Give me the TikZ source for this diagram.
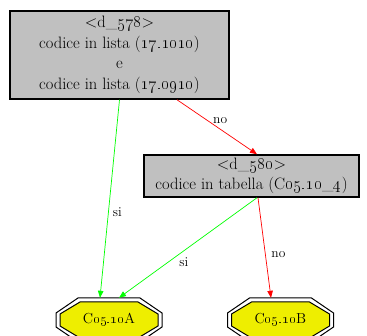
\documentclass[tikz,border=0pt]{standalone}
\usetikzlibrary{arrows.meta}
\definecolor{boxgray}{HTML}{C0C0C0}
\definecolor{leafyellow}{HTML}{EEEE00}
\definecolor{egreen}{HTML}{00FF00}
\definecolor{ered}{HTML}{FF0000}
\newcommand{\octa}[2]{%
  \draw[line width=1pt, fill=white] (#1-31,#2-22) -- (#1+31,#2-22) -- (#1+53,#2-7) -- (#1+53,#2+7) -- (#1+31,#2+22) -- (#1-31,#2+22) -- (#1-53,#2+7) -- (#1-53,#2-7) -- cycle;
  \draw[line width=1pt, fill=leafyellow] (#1-29,#2-18) -- (#1+29,#2-18) -- (#1+49,#2-6) -- (#1+49,#2+6) -- (#1+29,#2+18) -- (#1-29,#2+18) -- (#1-49,#2+6) -- (#1-49,#2-6) -- cycle;}
\tikzset{
  decbox/.style={draw=black, line width=1.5pt, fill=boxgray, align=center, inner sep=0pt,
    font=\fontsize{16.5}{20.5}\selectfont},
  leaf/.style={inner sep=0pt, minimum width=106pt, minimum height=44pt, font=\fontsize{14.5}{16}\selectfont},
  edge/.style={line width=0.7pt, -{Triangle[length=7pt,width=5.5pt]}},
  elabel/.style={font=\fontsize{13.5}{15}\selectfont, text=black, inner sep=1pt}
}
\begin{document}
\begin{tikzpicture}[x=1pt,y=-1pt]
\useasboundingbox (0,0) rectangle (367,336);
\node[decbox, minimum width=219pt, minimum height=88pt] (d578) at (119.5,55)
  {<d\_\oldstylenums{578}>\\codice in lista (\oldstylenums{17.1010})\\e\\codice in lista (\oldstylenums{17.0910})};
\node[decbox, minimum width=215pt, minimum height=42pt] (d580) at (251.5,176)
  {<d\_\oldstylenums{580}>\\codice in tabella (C\oldstylenums{05.10}\_\oldstylenums{4})};
\octa{109}{320}
\octa{280.5}{320}
\node[leaf] (A) at (109,320) {C\oldstylenums{05.10}A};
\node[leaf] (B) at (280.5,320) {C\oldstylenums{05.10}B};
\draw[edge, egreen] (d578.south) -- node[elabel, pos=0.57, xshift=9pt]{si} ([xshift=-9pt]A.north);
\draw[edge, ered] ([xshift=57.5pt]d578.south) -- node[elabel, pos=0.54, yshift=9pt]{no} ([xshift=5.5pt]d580.north);
\draw[edge, egreen] ([xshift=5.5pt]d580.south) -- node[elabel, pos=0.53, yshift=-11pt]{si} ([xshift=10pt]A.north);
\draw[edge, ered] ([xshift=6.5pt]d580.south) -- node[elabel, pos=0.57, xshift=13pt]{no} ([xshift=-9.5pt]B.north);
\end{tikzpicture}
\end{document}
